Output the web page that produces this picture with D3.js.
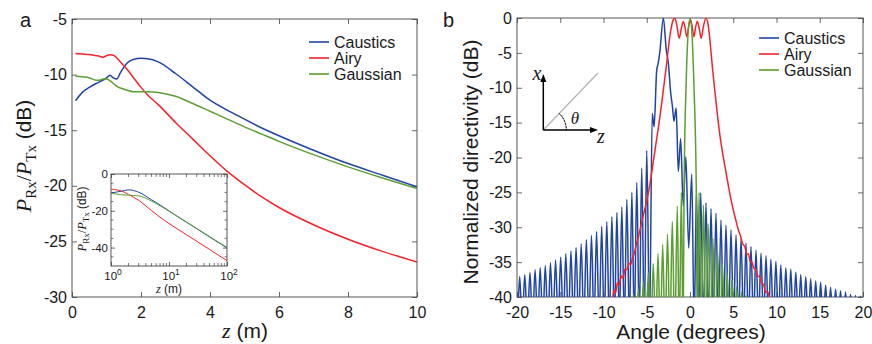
<!DOCTYPE html>
<html>
<head>
<meta charset="utf-8">
<script src="https://cdn.jsdelivr.net/npm/d3@7"></script>
<style>
  body { margin: 0; background: #fff; }
  svg { display: block; }
  text { font-family: 'Liberation Sans', Arial, sans-serif; fill: #1a1a1a; }
  .serif { font-family: 'Liberation Serif', 'Times New Roman', serif; }
</style>
</head>
<body>
<div id="chart"></div>
<script>
// ---- panel a: received power vs distance ----
const zVals = [0.1, 0.3, 0.5, 0.7, 0.8, 0.9, 1.0, 1.1, 1.2, 1.3, 1.4, 1.5, 1.6, 1.8, 2.0, 2.2, 2.5, 3.0, 3.5, 4.0, 4.5, 5.0, 5.5, 6.0, 7.0, 8.0, 9.0, 10.0];
const causticsA = [-12.35, -11.6, -11.15, -10.8, -10.65, -10.5, -10.3, -10.05, -10.3, -10.4, -9.85, -9.35, -8.95, -8.62, -8.53, -8.57, -8.85, -9.9, -11.1, -12.3, -13.2, -14.0, -14.8, -15.5, -16.8, -18.0, -19.05, -20.1];
const airyA = [-8.1, -8.15, -8.2, -8.3, -8.35, -8.45, -8.3, -8.22, -8.25, -8.5, -8.85, -9.2, -9.55, -10.35, -11.15, -11.85, -12.7, -14.3, -15.8, -17.3, -18.7, -19.9, -21.0, -21.95, -23.5, -24.8, -25.9, -26.85];
const gaussianA = [-10.15, -10.2, -10.28, -10.5, -10.5, -10.4, -10.4, -10.55, -10.8, -11.05, -11.2, -11.3, -11.4, -11.55, -11.55, -11.55, -11.6, -11.95, -12.6, -13.3, -14.0, -14.7, -15.35, -16.0, -17.2, -18.3, -19.3, -20.25];

// inset (log distance)
const insetZ = [1, 1.5, 2, 3, 5, 7, 10, 20, 30, 50, 70, 100];
const insetCaustics = [-10.3, -9.4, -8.6, -9.9, -14.0, -16.8, -20.1, -26.2, -29.7, -34.2, -37.1, -40.2];
const insetAiry = [-8.3, -9.2, -11.1, -14.3, -19.9, -23.5, -26.9, -33.0, -36.5, -41.0, -44.0, -47.0];
const insetGaussian = [-10.4, -11.3, -11.5, -11.9, -14.7, -17.2, -20.2, -26.1, -29.6, -34.0, -36.9, -39.9];

// ---- panel b: normalized directivity vs angle ----
const causticsLobes = [
  [-20.28, -37.4], [-19.69, -37.1], [-19.10, -36.8], [-18.50, -36.5], [-17.91, -36.1], [-17.32, -35.8], [-16.73, -35.5],
  [-16.13, -35.1], [-15.54, -34.7], [-14.95, -34.3], [-14.36, -33.8], [-13.76, -33.4], [-13.17, -32.9], [-12.58, -32.4],
  [-11.98, -31.8], [-11.39, -31.2], [-10.80, -30.6], [-10.21, -29.9], [-9.62, -29.2], [-9.03, -28.5], [-8.45, -27.9],
  [-7.88, -27.1], [-7.30, -26.0], [-6.72, -25.0], [-6.15, -23.6], [-5.58, -21.5], [-5.00, -19.0], [-4.36, -13.7],
  [-4.15, -15.6], [-3.85, -7.5], [-3.7, -6.6], [-3.5, -5.0], [-3.08, 0], [-2.75, -4.5], [-2.5, -6.5], [-2.25, -10.5],
  [-2.02, -12.8], [-1.85, -14.8], [-1.6, -12.9], [-1.08, -17.3], [-0.48, -19.9], [0.2, -22.4], [0.75, -24.6], [1.24, -25.1],
  [1.85, -26.5], [2.43, -27.3], [3.0, -28.0], [3.58, -29.0], [4.16, -29.7], [4.74, -30.4], [5.32, -31.1], [5.9, -31.6],
  [6.47, -32.3], [7.05, -32.8], [7.63, -33.3], [8.21, -33.7], [8.79, -34.1], [9.35, -34.6], [9.93, -34.9], [10.5, -35.4],
  [11.08, -35.8], [11.65, -36.0], [12.23, -36.4], [12.8, -36.8], [13.38, -37.1], [13.95, -37.4], [14.53, -37.7],
  [15.1, -37.9], [15.68, -38.3], [16.25, -38.6], [16.83, -38.9], [17.4, -39.1], [17.98, -39.3], [18.55, -39.6],
  [19.13, -39.8], [19.7, -39.9]
];
const causticsNulls = [
  [-19.99, -44], [-19.40, -44], [-18.80, -44], [-18.21, -44], [-17.62, -44], [-17.02, -44], [-16.43, -44], [-15.84, -44],
  [-15.25, -44], [-14.65, -44], [-14.06, -44], [-13.47, -44], [-12.88, -44], [-12.28, -44], [-11.69, -44], [-11.10, -44],
  [-10.51, -44], [-9.92, -44], [-9.33, -44], [-8.74, -44], [-8.17, -44], [-7.59, -44], [-7.01, -44], [-6.44, -44],
  [-5.87, -44], [-5.29, -44], [-4.68, -44], [-1.35, -22.0], [-0.78, -27.0], [-0.15, -33.0], [0.48, -44], [1.0, -44],
  [1.55, -44], [2.14, -44], [2.72, -44], [3.29, -44], [3.87, -44], [4.45, -44], [5.03, -44], [5.61, -44], [6.19, -44],
  [6.76, -44], [7.34, -44], [7.92, -44], [8.5, -44], [9.07, -44], [9.64, -44], [10.22, -44], [10.79, -44], [11.37, -44],
  [11.94, -44], [12.52, -44], [13.09, -44], [13.67, -44], [14.24, -44], [14.82, -44], [15.39, -44], [15.97, -44],
  [16.54, -44], [17.12, -44], [17.69, -44], [18.27, -44], [18.84, -44], [19.42, -44], [20.0, -44]
];
const airyB = [
  [-9.45, -42], [-9.2, -40.2], [-9.0, -40.5], [-8.8, -39.0], [-8.6, -39.4], [-8.4, -38.0], [-8.2, -38.3], [-7.95, -37.0],
  [-7.75, -37.3], [-7.5, -36.0], [-7.3, -36.1], [-7.05, -35.2], [-6.85, -35.3], [-6.6, -34.2], [-6.4, -33.6], [-6.2, -32.4],
  [-6.0, -31.6], [-5.8, -30.5], [-5.58, -29.3], [-5.3, -27.8], [-5.0, -26.2], [-4.7, -24.3], [-4.43, -22.2], [-4.15, -19.8],
  [-3.85, -17.3], [-3.55, -14.8], [-3.27, -12.2], [-3.0, -9.5], [-2.7, -6.5], [-2.45, -3.8], [-2.2, -1.6], [-1.95, -0.3],
  [-1.75, 0], [-1.5, -1.2], [-1.25, -2.9], [-1.0, -1.5], [-0.78, -0.5], [-0.58, -1.3], [-0.38, -2.7], [-0.15, -1.2],
  [0.05, -0.3], [0.25, -1.2], [0.46, -2.7], [0.65, -1.3], [0.84, -0.5], [1.07, -1.5], [1.3, -2.9], [1.55, -1.2], [1.85, 0],
  [2.1, -1.0], [2.35, -3.8], [2.6, -7.2], [2.9, -10.8], [3.2, -14.2], [3.5, -17.2], [3.8, -19.6], [4.1, -21.7], [4.4, -23.8],
  [4.7, -25.8], [5.0, -27.5], [5.3, -29.0], [5.6, -30.4], [5.85, -31.3], [6.1, -32.4], [6.35, -32.8], [6.55, -33.9],
  [6.75, -33.8], [6.95, -34.9], [7.15, -35.0], [7.4, -35.9], [7.6, -36.0], [7.85, -37.1], [8.05, -37.0], [8.3, -38.1],
  [8.5, -38.2], [8.75, -39.3], [8.95, -39.2], [9.2, -40.3], [9.45, -41.5]
];
const gaussianLobes = [
  [-6.55, -39.6], [-5.97, -38.8], [-5.4, -37.8], [-4.82, -36.5], [-4.25, -35.2], [-3.7, -33.8], [-3.16, -32.5],
  [-2.6, -31.0], [-2.05, -29.2], [-1.47, -27.0], [-1.0, -25.0],
  [-0.68, -24], [-0.45, -9.5], [-0.25, -2.8], [0.0, 0], [0.25, -2.8], [0.45, -9.5], [0.72, -24],
  [1.05, -25.0], [1.55, -26.8], [2.1, -29.5], [2.65, -31.6], [3.2, -33.6], [3.75, -35.3], [4.3, -36.6], [4.85, -37.6],
  [5.4, -38.5], [5.95, -39.3], [6.5, -39.8]
];
const gaussianNulls = [
  [-6.85, -46], [-6.26, -46], [-5.68, -46], [-5.11, -46], [-4.53, -46], [-3.97, -46], [-3.43, -46], [-2.88, -46],
  [-2.32, -46], [-1.76, -46], [-1.24, -46], [-0.8, -46], [0.85, -46], [1.3, -46], [1.83, -46], [2.38, -46], [2.93, -46],
  [3.48, -46], [4.03, -46], [4.58, -46], [5.13, -46], [5.68, -46], [6.23, -46], [6.8, -46]
];

const seriesNames = ['Caustics', 'Airy', 'Gaussian'];
const colors = { Caustics: '#1f44a6', Airy: '#f5222b', Gaussian: '#5c9e31' };

const svg = d3.select('#chart').append('svg').attr('width', 872).attr('height', 344);

// inward ticks on all four sides, labels only bottom/left
function addBox(g, x, y, opts) {
  const [x0, x1] = x.range();
  const [y0, y1] = y.range();
  const fmt = opts.fmt || ((d) => String(d));
  const tl = opts.tickLen || 5;

  g.append('g').attr('transform', `translate(0,${y0})`)
    .call(d3.axisBottom(x).tickValues(opts.xTicks).tickSize(-tl).tickPadding(opts.xPad || 10).tickFormat(opts.xLabels === false ? '' : fmt));
  g.append('g').attr('transform', `translate(0,${y1})`)
    .call(d3.axisTop(x).tickValues(opts.xTicks).tickSize(-tl).tickFormat(''));
  g.append('g').attr('transform', `translate(${x0},0)`)
    .call(d3.axisLeft(y).tickValues(opts.yTicks).tickSize(-tl).tickPadding(opts.yPad || 5).tickFormat(fmt));
  g.append('g').attr('transform', `translate(${x1},0)`)
    .call(d3.axisRight(y).tickValues(opts.yTicks).tickSize(-tl).tickFormat(''));

  g.selectAll('.domain').remove();
  g.selectAll('.tick line').attr('stroke', '#444').attr('stroke-width', 0.8);
  g.selectAll('.tick text').attr('font-size', opts.fontSize || 16).attr('fill', '#1a1a1a')
    .attr('font-family', "'Liberation Sans', Arial, sans-serif");

  g.append('rect')
    .attr('x', x0).attr('y', y1)
    .attr('width', x1 - x0).attr('height', y0 - y1)
    .attr('fill', 'none').attr('stroke', '#444').attr('stroke-width', 0.9);
}

function addClip(id, x, y) {
  svg.append('clipPath').attr('id', id).append('rect')
    .attr('x', x.range()[0]).attr('y', y.range()[1])
    .attr('width', x.range()[1] - x.range()[0]).attr('height', y.range()[0] - y.range()[1]);
}

function addLegend(g, lx, ly) {
  const items = g.append('g').selectAll('g').data(seriesNames).enter().append('g')
    .attr('transform', (d, i) => `translate(${lx},${ly + i * 16})`);
  items.append('line').attr('x1', 0).attr('x2', 20).attr('y1', 0).attr('y2', 0)
    .attr('stroke', (d) => colors[d]).attr('stroke-width', 1.6);
  items.append('text').attr('x', 25).attr('y', 5.5).attr('font-size', 16).text((d) => d);
}

// P_Rx / P_Tx (dB) with serif italics and subscripts
function powerLabel(t, big, small) {
  t.append('tspan').attr('class', 'serif').attr('font-style', 'italic').attr('font-size', big).text('P');
  t.append('tspan').attr('class', 'serif').attr('font-size', small).attr('dy', big * 0.22).text('Rx');
  t.append('tspan').attr('class', 'serif').attr('font-size', big).attr('dy', -big * 0.22).text('/');
  t.append('tspan').attr('class', 'serif').attr('font-style', 'italic').attr('font-size', big).text('P');
  t.append('tspan').attr('class', 'serif').attr('font-size', small).attr('dy', big * 0.22).text('Tx');
  t.append('tspan').attr('font-size', big * 0.95).attr('dy', -big * 0.22).text(' (dB)');
}

function drawPanelA() {
  const g = svg.append('g').attr('class', 'panel-a');
  const x = d3.scaleLinear().domain([0, 10]).range([72, 417]);
  const y = d3.scaleLinear().domain([-30, -5]).range([297, 19]);
  addClip('clip-a', x, y);

  addBox(g, x, y, { xTicks: d3.range(0, 11, 2), yTicks: d3.range(-30, -4, 5) });

  const line = d3.line().x((d) => x(d[0])).y((d) => y(d[1])).curve(d3.curveMonotoneX);
  const curves = { Caustics: causticsA, Airy: airyA, Gaussian: gaussianA };
  g.append('g').attr('clip-path', 'url(#clip-a)')
    .selectAll('path').data(seriesNames).enter().append('path')
    .attr('d', (d) => line(zVals.map((z, i) => [z, curves[d][i]])))
    .attr('fill', 'none').attr('stroke', (d) => colors[d]).attr('stroke-width', 1.5);

  addLegend(g, 309, 42);

  g.append('text').attr('x', 20).attr('y', 27).attr('font-size', 20).text('a');

  const xl = g.append('text').attr('x', 245).attr('y', 338).attr('text-anchor', 'middle');
  xl.append('tspan').attr('class', 'serif').attr('font-style', 'italic').attr('font-size', 22).text('z');
  xl.append('tspan').attr('font-size', 21).text(' (m)');

  const yl = g.append('text').attr('text-anchor', 'middle').attr('transform', 'translate(31,156) rotate(-90)');
  powerLabel(yl, 22, 15);

  drawInset(g);
}

function drawInset(parent) {
  const g = parent.append('g').attr('class', 'inset');
  const x = d3.scaleLog().domain([1, 100]).range([111, 227]);
  const y = d3.scaleLinear().domain([-50, 0]).range([266, 174]);

  g.append('rect').attr('x', 111).attr('y', 174).attr('width', 116).attr('height', 92).attr('fill', '#fff');
  addClip('clip-inset', x, y);

  // minor log ticks
  const minor = [2, 3, 4, 5, 6, 7, 8, 9, 20, 30, 40, 50, 60, 70, 80, 90];
  minor.forEach((v) => {
    g.append('line').attr('x1', x(v)).attr('x2', x(v)).attr('y1', 266).attr('y2', 263).attr('stroke', '#444').attr('stroke-width', 0.7);
    g.append('line').attr('x1', x(v)).attr('x2', x(v)).attr('y1', 174).attr('y2', 177).attr('stroke', '#444').attr('stroke-width', 0.7);
  });

  addBox(g, x, y, { xTicks: [1, 10, 100], yTicks: [0, -20, -40], xLabels: false, fontSize: 11.5, tickLen: 4, yPad: 3 });
  d3.range(-45, 0, 5).filter((v) => v % 20 !== 0).forEach((v) => {
    g.append('line').attr('x1', 111).attr('x2', 113.5).attr('y1', y(v)).attr('y2', y(v)).attr('stroke', '#444').attr('stroke-width', 0.7);
    g.append('line').attr('x1', 224.5).attr('x2', 227).attr('y1', y(v)).attr('y2', y(v)).attr('stroke', '#444').attr('stroke-width', 0.7);
  });

  // 10^n labels
  [0, 1, 2].forEach((p) => {
    const t = g.append('text').attr('x', x(10 ** p) + 2).attr('y', 280).attr('text-anchor', 'middle').attr('font-size', 11.5);
    t.append('tspan').text('10');
    t.append('tspan').attr('font-size', 8.5).attr('dy', -5).text(String(p));
  });

  const line = d3.line().x((d) => x(d[0])).y((d) => y(d[1])).curve(d3.curveMonotoneX);
  const curves = { Caustics: insetCaustics, Airy: insetAiry, Gaussian: insetGaussian };
  g.append('g').attr('clip-path', 'url(#clip-inset)')
    .selectAll('path').data(seriesNames).enter().append('path')
    .attr('d', (d) => line(insetZ.map((z, i) => [z, curves[d][i]])))
    .attr('fill', 'none').attr('stroke', (d) => colors[d]).attr('stroke-width', 1);

  const xl = g.append('text').attr('x', 169).attr('y', 293).attr('text-anchor', 'middle');
  xl.append('tspan').attr('class', 'serif').attr('font-style', 'italic').attr('font-size', 12.5).text('z');
  xl.append('tspan').attr('font-size', 12).text(' (m)');

  const yl = g.append('text').attr('text-anchor', 'middle').attr('transform', 'translate(86,219) rotate(-90)');
  powerLabel(yl, 12.5, 9);
}

function drawPanelB() {
  const g = svg.append('g').attr('class', 'panel-b');
  const x = d3.scaleLinear().domain([-20, 20]).range([517, 863]);
  const y = d3.scaleLinear().domain([-40, 0]).range([297, 18]);
  addClip('clip-b', x, y);

  addBox(g, x, y, { xTicks: d3.range(-20, 21, 5), yTicks: d3.range(-40, 1, 5) });

  const line = d3.line().x((d) => x(d[0])).y((d) => y(d[1])).curve(d3.curveMonotoneX);
  const byAngle = (a, b) => a[0] - b[0];
  const curves = {
    Caustics: causticsLobes.concat(causticsNulls).sort(byAngle),
    Airy: airyB,
    Gaussian: gaussianLobes.concat(gaussianNulls).sort(byAngle),
  };
  g.append('g').attr('clip-path', 'url(#clip-b)')
    .selectAll('path').data(seriesNames).enter().append('path')
    .attr('d', (d) => line(curves[d]))
    .attr('fill', 'none').attr('stroke', (d) => colors[d]).attr('stroke-width', 1.5);

  addLegend(g, 759, 38);

  g.append('text').attr('x', 443).attr('y', 27).attr('font-size', 20).text('b');

  g.append('text').attr('x', 691).attr('y', 339).attr('text-anchor', 'middle').attr('font-size', 21).text('Angle (degrees)');
  g.append('text').attr('text-anchor', 'middle').attr('font-size', 21)
    .attr('transform', 'translate(478,162) rotate(-90)').text('Normalized directivity (dB)');

  // coordinate sketch (x, z, theta)
  const ox = 543.3, oy = 130;
  const sk = g.append('g').attr('class', 'sketch');
  sk.append('line').attr('x1', ox).attr('y1', oy).attr('x2', 598).attr('y2', 73).attr('stroke', '#b5b5b5').attr('stroke-width', 1.3);
  sk.append('line').attr('x1', ox).attr('y1', oy).attr('x2', ox).attr('y2', 81).attr('stroke', '#000').attr('stroke-width', 1.5);
  sk.append('line').attr('x1', ox).attr('y1', oy).attr('x2', 592).attr('y2', oy).attr('stroke', '#000').attr('stroke-width', 1.5);
  sk.append('path').attr('d', `M${ox - 3},82 L${ox},74 L${ox + 3},82 Z`).attr('fill', '#000');
  sk.append('path').attr('d', `M590,${oy - 3} L598,${oy} L590,${oy + 3} Z`).attr('fill', '#000');
  const arc = d3.arc().innerRadius(23).outerRadius(23).startAngle(Math.PI / 2 - 0.8).endAngle(Math.PI / 2);
  sk.append('path').attr('d', arc()).attr('transform', `translate(${ox},${oy})`)
    .attr('fill', 'none').attr('stroke', '#000').attr('stroke-width', 1).attr('stroke-dasharray', '1.5,1.5');
  sk.append('text').attr('class', 'serif').attr('font-style', 'italic').attr('font-size', 20).attr('x', 537).attr('y', 80).attr('text-anchor', 'middle').text('x');
  sk.append('text').attr('class', 'serif').attr('font-style', 'italic').attr('font-size', 20).attr('x', 601).attr('y', 143).attr('text-anchor', 'middle').text('z');
  sk.append('text').attr('class', 'serif').attr('font-style', 'italic').attr('font-size', 17).attr('x', 575).attr('y', 124).attr('text-anchor', 'middle').text('θ');
}

drawPanelA();
drawPanelB();
</script>
</body>
</html>
